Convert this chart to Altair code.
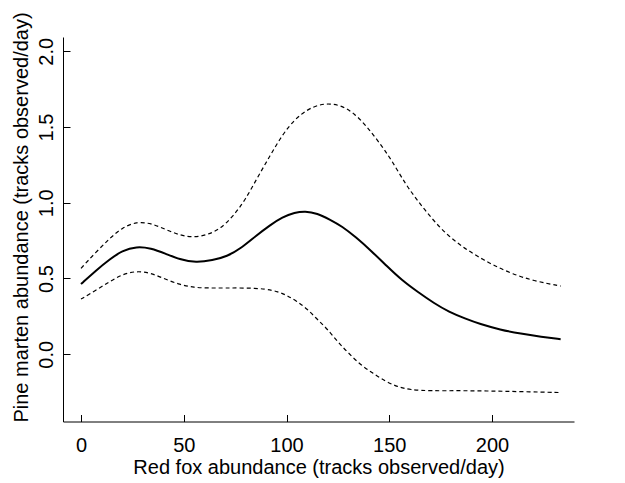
import altair as alt
import pandas as pd

# Fitted curve (solid)
fit_x = [0, 7, 14, 20, 27, 34, 41, 48, 56, 64, 71, 78, 85, 92, 98, 104, 109, 115, 121,
         127, 134, 141, 149, 156, 164, 172, 179, 187, 194, 204, 214, 224, 233.4]
fit_y = [0.463, 0.55, 0.627, 0.683, 0.712, 0.70, 0.665, 0.625, 0.604, 0.62, 0.645, 0.70,
         0.78, 0.852, 0.905, 0.935, 0.945, 0.93, 0.89, 0.845, 0.77, 0.685, 0.58, 0.49, 0.41,
         0.335, 0.28, 0.235, 0.2, 0.162, 0.135, 0.115, 0.099]

# Upper confidence limit (dashed)
upper_x = [0, 7, 14, 20, 27, 34, 41, 48, 55, 62, 68, 74, 80, 86, 92, 98, 104, 110, 116, 121,
           127, 133, 139, 145, 151, 158, 164, 171, 178, 185, 193, 201, 210, 220, 233.4]
upper_y = [0.567, 0.67, 0.765, 0.835, 0.875, 0.865, 0.825, 0.785, 0.77, 0.79, 0.83, 0.91, 1.02,
           1.17, 1.31, 1.45, 1.55, 1.615, 1.648, 1.655, 1.64, 1.59, 1.505, 1.40, 1.285, 1.12,
           1.01, 0.89, 0.79, 0.715, 0.645, 0.585, 0.53, 0.485, 0.45]

# Lower confidence limit (dashed)
lower_x = [0, 7, 14, 20, 27, 34, 41, 48, 55, 62, 70, 80, 90, 96, 100, 105, 110, 115, 120,
           125, 130, 136, 142, 148, 154, 160, 170, 185, 200, 215, 233.4]
lower_y = [0.364, 0.42, 0.48, 0.527, 0.55, 0.537, 0.495, 0.46, 0.44, 0.437, 0.437, 0.438,
           0.432, 0.412, 0.39, 0.35, 0.30, 0.23, 0.165, 0.08, 0.01, -0.07, -0.125, -0.178,
           -0.215, -0.235, -0.242, -0.24, -0.243, -0.247, -0.253]

x_ticks = [0, 50, 100, 150, 200]
y_ticks = [0.0, 0.5, 1.0, 1.5, 2.0]

df = pd.concat([
    pd.DataFrame({"x": fit_x, "y": fit_y, "s": "fit"}),
    pd.DataFrame({"x": upper_x, "y": upper_y, "s": "upper"}),
    pd.DataFrame({"x": lower_x, "y": lower_y, "s": "lower"}),
])

FONT = "Liberation Sans"

x_axis = alt.Axis(
    values=x_ticks, grid=False, title="Red fox abundance (tracks observed/day)",
    domainColor="black", domainWidth=1, tickColor="black", tickWidth=1,
    tickSize=alt.ExprRef(expr="-7"), labelPadding=36.5, labelBaseline="alphabetic",
    labelFont=FONT, labelFontSize=20, labelColor="black",
    titleFont=FONT, titleFontSize=20, titleFontWeight="normal", titleColor="black",
    titleBaseline="alphabetic", titleY=51.5,
)
y_axis = alt.Axis(
    values=y_ticks, format=".1f", grid=False,
    title="Pine marten abundance (tracks observed/day)",
    domainColor="black", domainWidth=1, tickColor="black", tickWidth=1,
    tickSize=alt.ExprRef(expr="-7"), labelPadding=17.2, labelAngle=270,
    labelAlign="center", labelBaseline="alphabetic",
    labelFont=FONT, labelFontSize=20, labelColor="black",
    titleFont=FONT, titleFontSize=20, titleFontWeight="normal", titleColor="black",
    titleAngle=270, titleAlign="center", titleBaseline="alphabetic",
    titleX=-36, titleY=180,
)

base = alt.Chart(df).encode(
    x=alt.X("x:Q", scale=alt.Scale(domain=[-8.76, 239.9], nice=False, zero=False), axis=x_axis),
    y=alt.Y("y:Q", scale=alt.Scale(domain=[-0.444, 2.094], nice=False, zero=False), axis=y_axis),
    detail="s:N",
    order="x:Q",
)

bands = base.transform_filter(alt.datum.s != "fit").mark_line(
    color="black", strokeWidth=1.2, strokeDash=[4, 3], interpolate="basis"
)
fit = base.transform_filter(alt.datum.s == "fit").mark_line(
    color="black", strokeWidth=2, interpolate="basis"
)

chart = alt.layer(bands, fit).properties(
    width=511, height=384.5,
    padding={"left": 55, "top": 29, "right": 40, "bottom": 58},
    autosize=alt.AutoSizeParams(type="none"),
    background="white",
).configure_view(stroke=None)

chart.save("out.html", embed_options={"renderer": "svg", "actions": False})
